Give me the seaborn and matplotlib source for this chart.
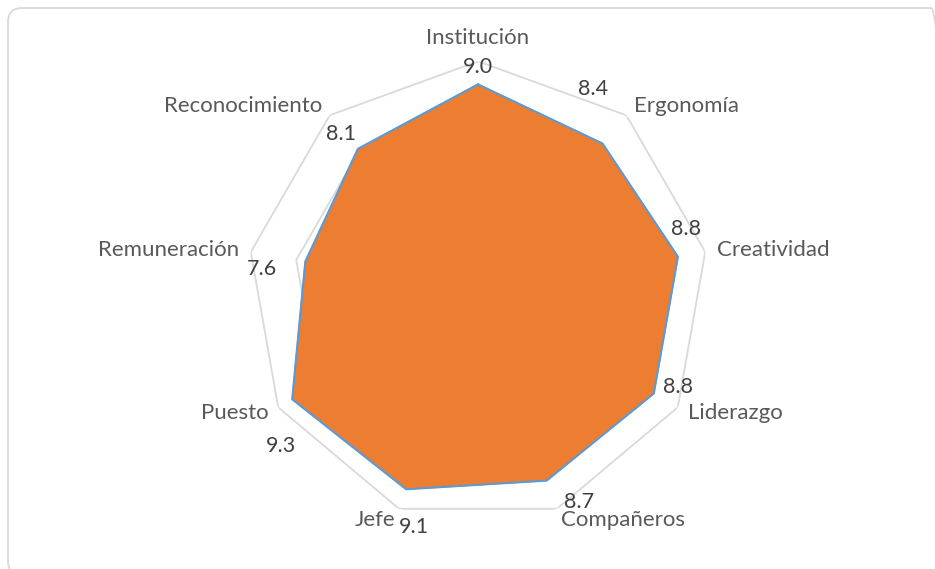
import numpy as np
import matplotlib
matplotlib.use("Agg")
import matplotlib.pyplot as plt
import seaborn as sns
from matplotlib.patches import FancyBboxPatch

# Data (clockwise from the top)
categories = ["Institución", "Ergonomía", "Creatividad", "Liderazgo", "Compañeros",
              "Jefe", "Puesto", "Remuneración", "Reconocimiento"]
scores = [9.0, 8.4, 8.8, 8.8, 8.7, 9.1, 9.3, 7.6, 8.1]
grid_levels = [2, 4, 6, 8, 10]

# where Excel dropped the value labels (angle shift in degrees, radius in data units)
label_shift = [0, -10.5, -6.8, -4.5, -5.8, -4.7, -8.1, -3.8, -1.0]
label_r = [9.75, 10.1, 9.4, 9.6, 10.1, 10.55, 10.83, 9.4, 9.05]

sns.set_theme(style="white")
plt.rcParams["font.family"] = ["Lato", "DejaVu Sans"]

W, H = 935, 569
fig = plt.figure(figsize=(W / 100, H / 100), dpi=100)

# chart frame (right and bottom edges run off the image)
frame = FancyBboxPatch((0.08, -0.06), 9.37, 5.67,
                       boxstyle="round,pad=0,rounding_size=0.14",
                       transform=fig.dpi_scale_trans, fill=False,
                       edgecolor="#D9D9D9", linewidth=1.3)
fig.patches.append(frame)

cx, cy, rad = 478, 292, 230.7
ax = fig.add_axes([(cx - rad) / W, (H - cy - rad) / H, 2 * rad / W, 2 * rad / H],
                  projection="polar")
ax.set_theta_zero_location("N")
ax.set_theta_direction(-1)
ax.set_ylim(0, 10)
ax.grid(False)
ax.spines["polar"].set_visible(False)
ax.set_xticks([])
ax.set_yticks([])
ax.patch.set_alpha(0)

n = len(categories)
theta = np.linspace(0, 2 * np.pi, n, endpoint=False)
theta_c = np.append(theta, theta[0])

# web lines
for lvl in grid_levels:
    ax.plot(theta_c, [lvl] * (n + 1), color="#D9D9D9", lw=1.3, zorder=1)

vals = np.append(scores, scores[0])
ax.fill(theta_c, vals, color="#ED7D31", zorder=2)
ax.plot(theta_c, vals, color="#5B9BD5", lw=1.5, zorder=3)

# category labels
for t, name in zip(theta, categories):
    s = np.sin(t)
    if abs(s) < 0.05:
        ha, r = "center", 11.0
    elif s > 0:
        ha, r = "left", 10.5
    else:
        ha, r = "right", 10.5
    ax.text(t, r, name, ha=ha, va="center", fontsize=16, color="#595959")

# value labels
for t, v, sh, r in zip(theta, scores, label_shift, label_r):
    ax.text(t + np.deg2rad(sh), r, f"{v:.1f}", ha="center", va="center",
            fontsize=15.5, color="#404040")

fig.savefig("out.png", dpi=100)
